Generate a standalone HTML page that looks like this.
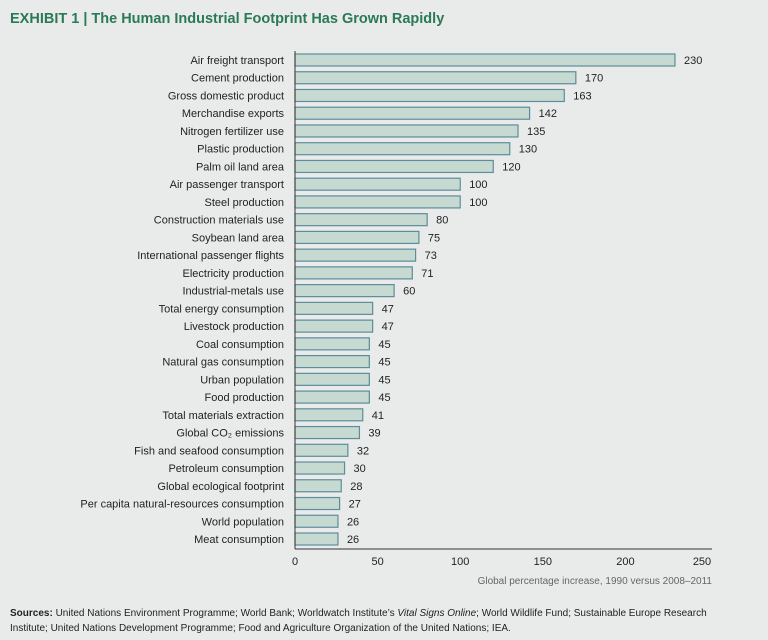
<!DOCTYPE html>
<html><head><meta charset="utf-8"><style>
body{margin:0;background:#e9ebea;width:768px;height:640px;overflow:hidden;font-family:"Liberation Sans",sans-serif}
svg{display:block}
</style></head><body>
<svg width="768" height="640">
<text x="10" y="23" font-size="14.5" font-weight="bold" fill="#2a7a55">EXHIBIT 1 | The Human Industrial Footprint Has Grown Rapidly</text>
<g id="plot"></g>
<text x="712" y="584" font-size="10" fill="#666" text-anchor="end">Global percentage increase, 1990 versus 2008–2011</text>
<text x="10" y="616" font-size="10" fill="#222"><tspan font-weight="bold">Sources:</tspan> United Nations Environment Programme; World Bank; Worldwatch Institute’s <tspan font-style="italic">Vital Signs Online</tspan>; World Wildlife Fund; Sustainable Europe Research</text>
<text x="10" y="631" font-size="10" fill="#222">Institute; United Nations Development Programme; Food and Agriculture Organization of the United Nations; IEA.</text>
</svg>
<script>
const categories=["Air freight transport","Cement production","Gross domestic product","Merchandise exports","Nitrogen fertilizer use","Plastic production","Palm oil land area","Air passenger transport","Steel production","Construction materials use","Soybean land area","International passenger flights","Electricity production","Industrial-metals use","Total energy consumption","Livestock production","Coal consumption","Natural gas consumption","Urban population","Food production","Total materials extraction","Global CO₂ emissions","Fish and seafood consumption","Petroleum consumption","Global ecological footprint","Per capita natural-resources consumption","World population","Meat consumption"];
const values=[230,170,163,142,135,130,120,100,100,80,75,73,71,60,47,47,45,45,45,45,41,39,32,30,28,27,26,26];
const ticks=[0,50,100,150,200,250];
const NS="http://www.w3.org/2000/svg";
const g=document.getElementById("plot");
const x0=295,x1=708,xmax=250,yTop=60,yBot=539;
const xs=v=>x0+(x1-x0)*v/xmax;
const step=(yBot-yTop)/(categories.length-1);
const ys=i=>yTop+i*step;
function mk(t,a){const e=document.createElementNS(NS,t);for(const k in a)e.setAttribute(k,a[k]);g.appendChild(e);return e;}
categories.forEach((c,i)=>{
  const y=ys(i);
  const r=mk("rect",{x:x0,y:y-6,width:xs(values[i])-x0,height:12,fill:"#c6dad1",stroke:"#5d8c9a","stroke-width":1.2});
  
  
  const l=mk("text",{x:284,y:y+4,"font-size":11,"text-anchor":"end",fill:"#222"});
  l.textContent=c;
  
  
  const v=mk("text",{x:xs(values[i])+9,y:y+4,"font-size":11,fill:"#222"});
  v.textContent=values[i];
  
  
});
const ya=mk("line",{x1:x0,x2:x0,y1:51,y2:549,stroke:"#333","stroke-width":1});


const xa=mk("line",{x1:x0,x2:712,y1:549,y2:549,stroke:"#333","stroke-width":1});


ticks.forEach(t=>{
  const e=mk("text",{x:xs(t)-(t==250?6:0),y:565,"font-size":11,"text-anchor":"middle",fill:"#222"});
  e.textContent=t;
  
  
});
</script>
</body></html>
